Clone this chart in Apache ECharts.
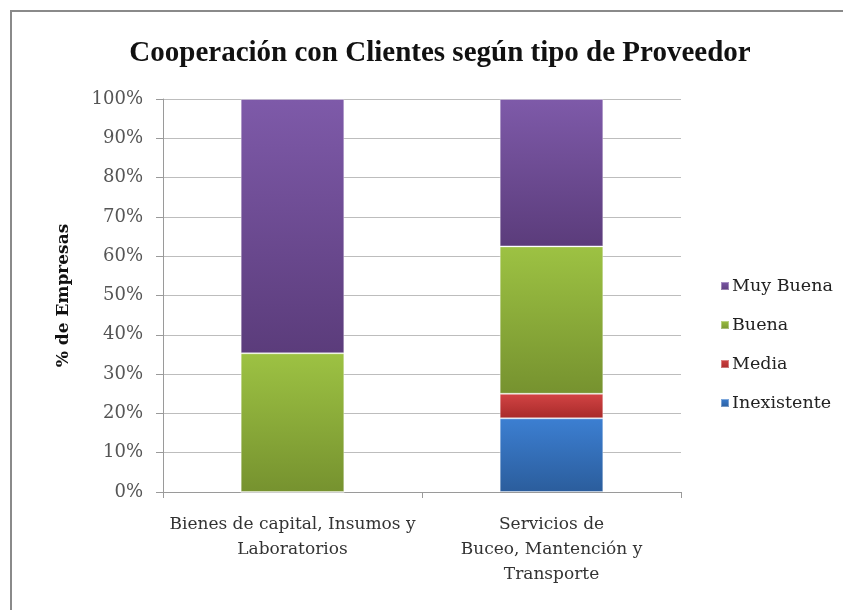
<!DOCTYPE html>
<html>
<head>
<meta charset="utf-8">
<script src="https://cdn.jsdelivr.net/npm/echarts@6/dist/echarts.min.js"></script>
<style>
  html, body { margin: 0; padding: 0; background: #fff; }
  #main { width: 843px; height: 610px; }
</style>
</head>
<body>
<div id="main"></div>
<script>
// data
var categories = ["Bienes de capital, Insumos y\nLaboratorios", "Servicios de\nBuceo, Mantención y\nTransporte"]
var inexistente = [0, 18.75]
var media = [0, 6.25]
var buena = [35.3, 37.5]
var muyBuena = [64.7, 37.5]

var serif = "'Liberation Serif', 'DejaVu Serif', serif"
var wide = "'DejaVu Serif', serif"

function grad(top, bottom) {
  return new echarts.graphic.LinearGradient(0, 0, 0, 1, [
    { offset: 0, color: top },
    { offset: 1, color: bottom }
  ])
}

var chartDom = document.getElementById("main")
var myChart = echarts.init(chartDom)
var option

function barSeries(name, data, top, bottom) {
  return {
    name: name,
    type: "bar",
    stack: "total",
    barWidth: "40%",
    data: data,
    itemStyle: {
      color: grad(top, bottom),
      borderColor: "rgba(255,255,255,0.35)",
      borderWidth: 1
    }
  }
}

option = {
  animation: false,
  backgroundColor: "#fff",
  title: {
    text: "Cooperación con Clientes según tipo de Proveedor",
    left: 435,
    textAlign: "center",
    top: 34,
    textStyle: {
      fontFamily: serif,
      fontSize: 29,
      fontWeight: "bold",
      color: "#111"
    }
  },
  graphic: [
    {
      type: "rect",
      shape: { x: 11, y: 11, width: 860, height: 640 },
      style: { fill: "none", stroke: "#8a8a8a", lineWidth: 2 }
    }
  ],
  legend: {
    orient: "vertical",
    left: 715,
    top: 272,
    itemWidth: 8,
    itemHeight: 8,
    itemGap: 21,
    icon: "rect",
    data: ["Muy Buena", "Buena", "Media", "Inexistente"],
    textStyle: { fontFamily: wide, fontSize: 17.5, color: "#222", padding: [0, 0, 0, -2] }
  },
  grid: {
    left: 163,
    right: 162,
    top: 99,
    bottom: 118,
    containLabel: false
  },
  xAxis: {
    type: "category",
    data: categories,
    axisLine: { lineStyle: { color: "#9a9a9a", width: 1 } },
    axisTick: { show: true, length: 6, lineStyle: { color: "#9a9a9a" } },
    axisLabel: {
      margin: 20,
      fontFamily: wide,
      fontSize: 17,
      lineHeight: 25,
      color: "#333",
      interval: 0
    }
  },
  yAxis: {
    type: "value",
    min: 0,
    max: 100,
    interval: 10,
    name: "% de Empresas",
    nameLocation: "middle",
    nameGap: 91,
    nameTextStyle: { fontFamily: wide, fontSize: 17, fontWeight: "bold", color: "#111" },
    axisLine: { show: true, lineStyle: { color: "#9a9a9a" } },
    axisTick: { show: true, length: 7, lineStyle: { color: "#9a9a9a" } },
    splitLine: { lineStyle: { color: "#bdbdbd" } },
    axisLabel: {
      margin: 20,
      fontFamily: wide,
      fontSize: 18,
      color: "#555",
      formatter: "{value}%"
    }
  },
  series: [
    barSeries("Inexistente", inexistente, "#3c7fd2", "#2b5d9c"),
    barSeries("Media", media, "#d24444", "#a82a2a"),
    barSeries("Buena", buena, "#9dc243", "#76922f"),
    barSeries("Muy Buena", muyBuena, "#7e5aa9", "#5b3c7b")
  ]
}

option && myChart.setOption(option)
</script>
</body>
</html>
